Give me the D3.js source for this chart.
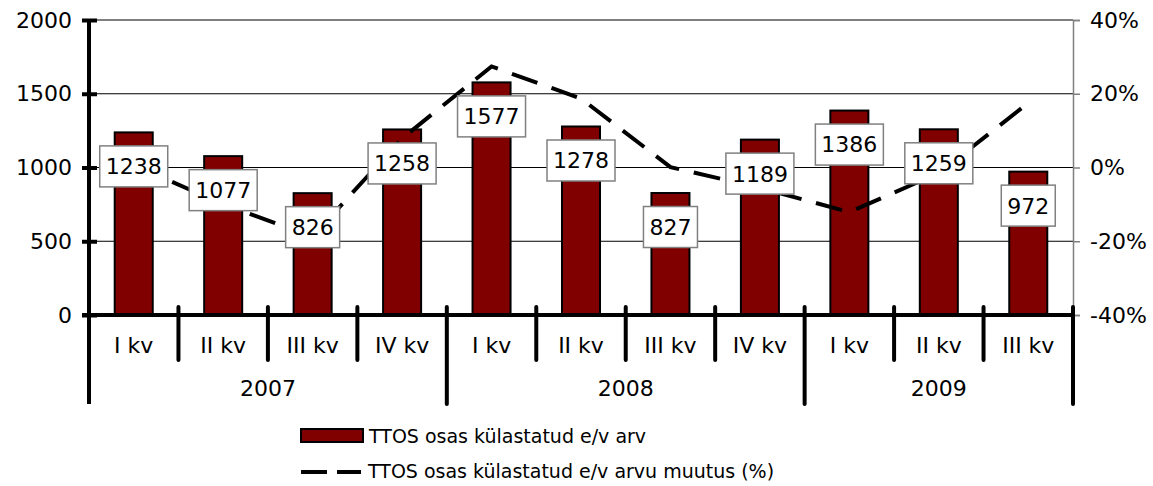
<!DOCTYPE html>
<html>
<head>
<meta charset="utf-8">
<title>TTOS</title>
<script src="https://cdn.jsdelivr.net/npm/d3@7"></script>
<style>
  body { margin: 0; background: #fff; }
  text { font-family: "DejaVu Sans", Verdana, sans-serif; fill: #000; }
</style>
</head>
<body>
<div id="vis"></div>
<script type="text/javascript">
// data
var quarters = ["I kv", "II kv", "III kv", "IV kv", "I kv", "II kv", "III kv", "IV kv", "I kv", "II kv", "III kv"];
var years = ["2007", "2008", "2009"];
var yearSpan = [4, 4, 3];
var visitors = [1238, 1077, 826, 1258, 1577, 1278, 827, 1189, 1386, 1259, 972];
var change = [0.7, -10, -18.7, 7.9, 27.4, 18.7, 0.1, -5.5, -12.1, -1.5, 17.5];
var leftTicks = [0, 500, 1000, 1500, 2000];
var rightTicks = [-40, -20, 0, 20, 40];
var seriesNames = ["TTOS osas külastatud e/v arv", "TTOS osas külastatud e/v arvu muutus (%)"];

const COLOR_BAR = "#800000";
var W = 1153, H = 486;
var plotLeft = 89, plotRight = 1073, plotTop = 20, plotBase = 315;

var svg = d3.select("#vis").append("svg").attr("width", W).attr("height", H);

var idx = d3.range(quarters.length);
var x = d3.scaleBand().domain(idx).range([plotLeft, plotRight]).paddingInner(0.575).paddingOuter(0.2875);
var y = d3.scaleLinear().domain([0, 2000]).range([plotBase, plotTop]);
var y2 = d3.scaleLinear().domain([-40, 40]).range([plotBase, plotTop]);
var step = x.step();
var cx = function(i) { return x(i) + x.bandwidth() / 2; };

// grid lines
svg.append("g").selectAll("line").data(leftTicks.filter(function(d){ return d > 0; }))
  .enter().append("line")
  .attr("x1", plotLeft).attr("x2", plotRight)
  .attr("y1", function(d){ return y(d); }).attr("y2", function(d){ return y(d); })
  .attr("stroke", "#000").attr("stroke-width", 1);

// right axis (thin grey)
var rAxis = svg.append("g").attr("transform", "translate(" + plotRight + ",0)")
  .call(d3.axisRight(y2).tickValues(rightTicks).tickSize(7).tickPadding(10)
    .tickFormat(function(d){ return d + "%"; }));
rAxis.select(".domain").attr("stroke", "#808080").attr("stroke-width", 1.5);
rAxis.selectAll(".tick line").attr("stroke", "#808080").attr("stroke-width", 1.5);
rAxis.selectAll("text").style("font-size", "22px").style("font-family", "DejaVu Sans");

// bars
svg.append("g").selectAll("rect").data(visitors).enter().append("rect")
  .attr("x", function(d, i){ return x(i); })
  .attr("y", function(d){ return y(d); })
  .attr("width", x.bandwidth())
  .attr("height", function(d){ return plotBase - y(d); })
  .attr("fill", COLOR_BAR).attr("stroke", "#000").attr("stroke-width", 2);

// change line
var line = d3.line().x(function(d, i){ return cx(i); }).y(function(d){ return y2(d); });
svg.append("path").datum(change)
  .attr("d", line).attr("fill", "none")
  .attr("stroke", "#000").attr("stroke-width", 4)
  .attr("stroke-dasharray", "27,15");

// left axis
var lAxis = svg.append("g").attr("transform", "translate(" + plotLeft + ",0)")
  .call(d3.axisLeft(y).tickValues(leftTicks).tickSize(7).tickPadding(10).tickFormat(d3.format("d")));
lAxis.select(".domain").remove();
lAxis.selectAll(".tick line").attr("x1", -7).attr("x2", 8).attr("stroke-width", 4);
lAxis.selectAll("text").style("font-size", "22px").style("font-family", "DejaVu Sans");
svg.append("line").attr("x1", plotLeft).attr("x2", plotLeft).attr("y1", plotTop).attr("y2", 404)
  .attr("stroke", "#000").attr("stroke-width", 4);

// bottom axis
svg.append("line").attr("x1", plotLeft - 7).attr("x2", plotRight).attr("y1", plotBase).attr("y2", plotBase)
  .attr("stroke", "#000").attr("stroke-width", 4);

// category dividers
var yearEnds = [];
var acc = 0;
yearSpan.forEach(function(n){ acc += n; yearEnds.push(acc); });
d3.range(1, quarters.length + 1).forEach(function(k){
  var xx = plotLeft + k * step;
  var isYear = yearEnds.indexOf(k) >= 0;
  svg.append("line").attr("x1", xx).attr("x2", xx)
    .attr("y1", plotBase - 8).attr("y2", isYear ? 404 : 360)
    .attr("stroke", "#000").attr("stroke-width", 4).attr("stroke-linecap", "round");
});

// quarter labels
svg.append("g").selectAll("text").data(quarters).enter().append("text")
  .attr("x", function(d, i){ return cx(i); }).attr("y", 353)
  .attr("text-anchor", "middle").style("font-size", "22px")
  .text(function(d){ return d; });

// year labels
var start = 0;
years.forEach(function(yr, j){
  var x0 = plotLeft + start * step, x1 = plotLeft + (start + yearSpan[j]) * step;
  svg.append("text").attr("x", (x0 + x1) / 2).attr("y", 396)
    .attr("text-anchor", "middle").style("font-size", "22px").text(yr);
  start += yearSpan[j];
});

// value labels
var labels = svg.append("g").selectAll("g").data(visitors).enter().append("g")
  .attr("transform", function(d, i){ return "translate(" + cx(i) + "," + (y(d) + 34) + ")"; });
labels.append("rect");
labels.append("text").attr("text-anchor", "middle").attr("dy", "0.36em")
  .style("font-size", "22px").text(function(d){ return d; });
labels.each(function(){
  var g = d3.select(this);
  var tw = g.select("text").node().getComputedTextLength();
  g.select("rect").attr("x", -tw / 2 - 6).attr("y", -20.5)
    .attr("width", tw + 12).attr("height", 41)
    .attr("fill", "#fff").attr("stroke", "#808080").attr("stroke-width", 1.5);
});

// legend
var lg = svg.append("g");
lg.append("rect").attr("x", 301).attr("y", 429).attr("width", 62).attr("height", 13)
  .attr("fill", COLOR_BAR).attr("stroke", "#000").attr("stroke-width", 2);
lg.append("text").attr("x", 369).attr("y", 436).attr("dy", "0.36em")
  .style("font-size", "19px").text(seriesNames[0]);
lg.append("line").attr("x1", 301).attr("x2", 361).attr("y1", 472).attr("y2", 472)
  .attr("stroke", "#000").attr("stroke-width", 4).attr("stroke-dasharray", "26,10");
lg.append("text").attr("x", 368).attr("y", 471).attr("dy", "0.36em")
  .style("font-size", "19px").text(seriesNames[1]);
</script>
</body>
</html>
